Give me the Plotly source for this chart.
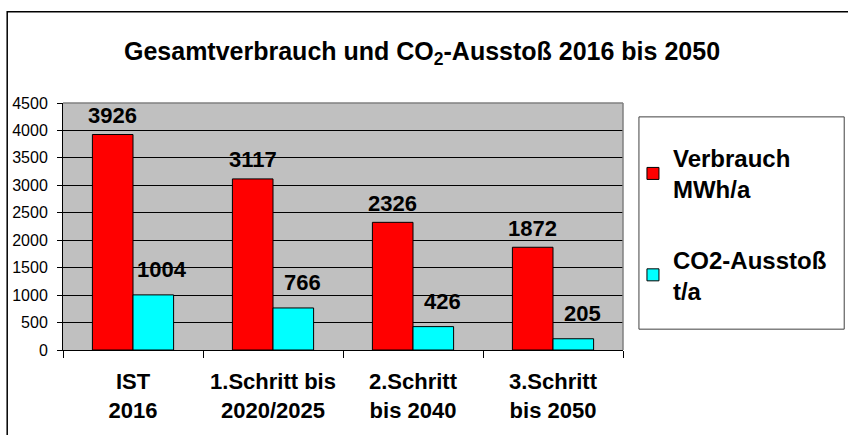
import plotly.graph_objects as go

# values
categories = ["IST<br>2016", "1.Schritt bis<br>2020/2025", "2.Schritt<br>bis 2040", "3.Schritt<br>bis 2050"]
verbrauch = [3926, 3117, 2326, 1872]
co2 = [1004, 766, 426, 205]
y_ticks = list(range(0, 4501, 500))

FONT = "Liberation Sans, Arial, sans-serif"
W, H = 848, 435
ML, MR, MT, MB = 61, 225, 103, 83
PW, PH = W - ML - MR, H - MT - MB


def px(x):
    return (x - ML) / PW


def py(y):
    return (H - MB - y) / PH


fig = go.Figure()
fig.add_trace(go.Bar(x=categories, y=verbrauch, name="Verbrauch<br>MWh/a",
                     marker=dict(color="#FF0000", line=dict(color="black", width=1)),
                     legendgroup="a"))
fig.add_trace(go.Bar(x=categories, y=co2, name="CO2-Ausstoß<br>t/a",
                     marker=dict(color="#00FFFF", line=dict(color="black", width=1)),
                     legendgroup="b"))

# value labels above the bars
for series, xs, ys in ((verbrauch, -20.5, 19), (co2, 29, 25)):
    for cat, val in zip(categories, series):
        fig.add_annotation(x=cat, y=val, text=str(val), showarrow=False,
                           xshift=xs, yshift=ys, yanchor="middle",
                           font=dict(family=FONT, size=22, color="black", weight="bold"))

shapes = [
    # outer chart frame
    dict(type="rect", xref="paper", yref="paper", x0=px(5), x1=px(852), y0=py(11), y1=py(440),
         line=dict(color="black", width=1.5), layer="below"),
    # legend box
    dict(type="rect", xref="paper", yref="paper", x0=px(639), x1=px(845), y0=py(331), y1=py(117),
         line=dict(color="#404040", width=1)),
    # grey top/right border of plot area
    dict(type="line", xref="paper", yref="paper", x0=0, x1=1, y0=1, y1=1,
         line=dict(color="#808080", width=1.5)),
    dict(type="line", xref="paper", yref="paper", x0=1, x1=1, y0=0, y1=1,
         line=dict(color="#808080", width=1.5)),
]

fig.update_layout(
    width=W, height=H,
    margin=dict(l=ML, r=MR, t=MT, b=MB),
    paper_bgcolor="white",
    plot_bgcolor="#C0C0C0",
    barmode="group",
    bargap=0.42,
    bargroupgap=0,
    font=dict(family=FONT, color="black"),
    title=dict(text="Gesamtverbrauch und CO<sub>2</sub>-Ausstoß 2016 bis 2050",
               x=422 / W, xref="container", xanchor="center",
               y=1 - 51 / H, yref="container", yanchor="middle",
               font=dict(family=FONT, size=25, color="black", weight="bold")),
    legend=dict(x=px(633), y=py(136), xanchor="left", yanchor="top",
                bgcolor="rgba(0,0,0,0)", borderwidth=0,
                itemwidth=30, tracegroupgap=36,
                font=dict(family=FONT, size=24, color="black", weight="bold")),
    shapes=shapes,
    xaxis=dict(showline=True, linecolor="black", linewidth=1,
               ticks="outside", ticklen=7, tickcolor="black", tickson="boundaries",
               ticklabelstandoff=12,
               tickfont=dict(family=FONT, size=22, color="black", weight="bold")),
    yaxis=dict(range=[0, 4500], tickvals=y_ticks, showline=True, linecolor="black", linewidth=1,
               ticks="outside", ticklen=5, tickcolor="black",
               showgrid=True, gridcolor="black", gridwidth=1, zeroline=False,
               ticklabelstandoff=6,
               tickfont=dict(family=FONT, size=16, color="black")),
)

# drop the default 8px body margin so the figure sits at the window origin
fig.write_html("out.html", config={"displayModeBar": False},
               post_script="document.body.style.margin = '0';")
